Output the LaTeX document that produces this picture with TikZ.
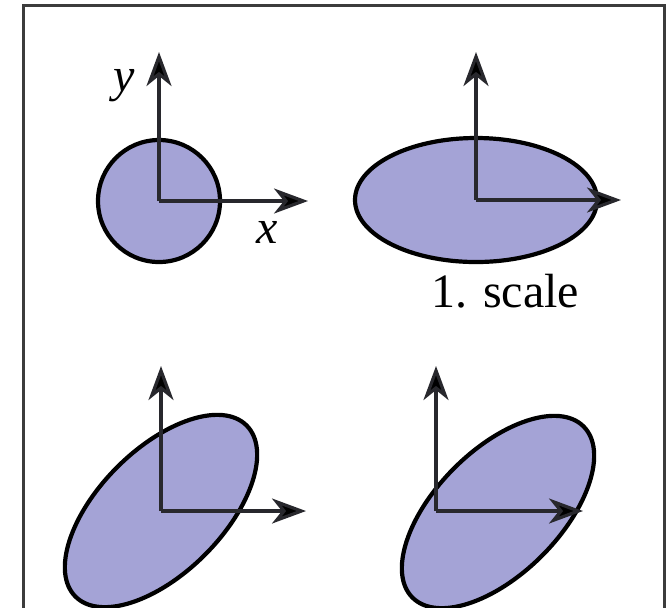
\documentclass[tikz,border=0pt]{standalone}
\usepackage{fontspec}
\setmainfont{Liberation Serif}
\usetikzlibrary{arrows.meta}
\definecolor{blobfill}{RGB}{164,163,214}
\definecolor{axisgray}{RGB}{40,40,45}
\definecolor{framegray}{RGB}{60,60,60}

\begin{document}
\begin{tikzpicture}[x=0.5pt, y=-0.5pt,
  blob/.style={fill=blobfill, draw=black, line width=2.1pt},
  axis/.style={draw=axisgray, line width=1.6pt,
    -{Stealth[length=17pt, width=12.5pt, inset=5pt, fill=black]}},
  lbl/.style={font=\fontsize{24}{28}\selectfont, inner sep=0pt, anchor=base}]
\useasboundingbox (0,0) rectangle (667,607);
\clip (0,0) rectangle (667,607);

% ---- frame (cut off at the bottom) ---------------------------------------
\draw[framegray, line width=1.5pt] (23.5,5.5) rectangle (664.5,650);

% ---- origins and axis tips of the four panels ----------------------------
\foreach \n/\ox/\oy/\tx/\ty in {orig/159/201/308/52, scl/476/200/621/52,
                                rot/161/511/306/366, trn/436/511/583/366}{
  \coordinate (\n) at (\ox,\oy);
  \coordinate (\n-x) at (\tx,\oy);
  \coordinate (\n-y) at (\ox,\ty);
}

% ---- the shape after each step -------------------------------------------
\draw[blob] (orig) circle[radius=61];
\draw[blob] (scl) ellipse[x radius=121, y radius=62];
\draw[blob, rotate around={45:(rot)}] (rot) ellipse[x radius=121, y radius=62];
\coordinate (trn-c) at (498,512);
\draw[blob, rotate around={45:(trn-c)}] (trn-c) ellipse[x radius=121, y radius=62];

% ---- axes ----------------------------------------------------------------
\foreach \n in {orig,scl,rot,trn}{
  \draw[axis] (\n) -- (\n-y);
  \draw[axis] (\n) -- (\n-x);
}

% ---- labels --------------------------------------------------------------
\node[lbl, font=\fontsize{24}{28}\selectfont\itshape] (ylab) at (124,91) {y};
\node[lbl, font=\fontsize{24}{28}\selectfont\itshape] (xlab) at (267,243) {x};
\node[lbl] (step1) at (505,307) {1. scale};
\end{tikzpicture}
\end{document}
